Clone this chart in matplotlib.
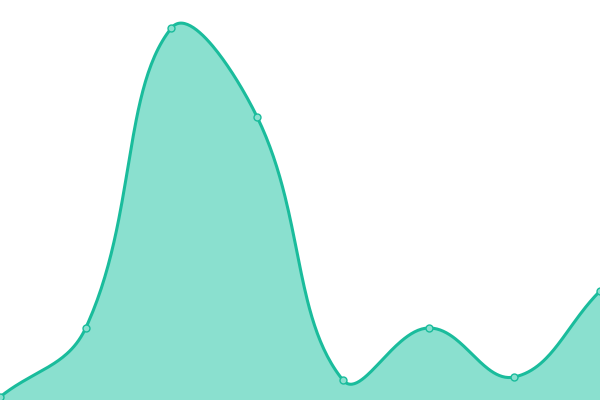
import numpy as np
import matplotlib
matplotlib.use('Agg')
import matplotlib.pyplot as plt

# data (baseline at bottom edge)
x_vals = [0, 1, 2, 3, 4, 5, 6, 7]
y_vals = [3, 72, 372, 283, 20, 72, 23, 109]

LINE = '#1abc9c'
FILL = '#8ae0cf'
TENSION = 0.4
XSCALE = 600 / 7  # x unit in pixels, y unit is already ~1px


def smooth(xs, ys, n=60):
    # bezier spline with distance-weighted control points
    px = np.asarray(xs, float) * XSCALE
    py = np.asarray(ys, float)
    k = len(px)
    c1, c2 = [], []
    for i in range(k):
        pi = max(i - 1, 0)
        ni = min(i + 1, k - 1)
        d01 = np.hypot(px[i] - px[pi], py[i] - py[pi])
        d12 = np.hypot(px[ni] - px[i], py[ni] - py[i])
        s01 = d01 / (d01 + d12) if d01 + d12 else 0
        s12 = d12 / (d01 + d12) if d01 + d12 else 0
        fa, fb = TENSION * s01, TENSION * s12
        dx, dy = px[ni] - px[pi], py[ni] - py[pi]
        c1.append((px[i] - fa * dx, py[i] - fa * dy))
        c2.append((px[i] + fb * dx, py[i] + fb * dy))
    t = np.linspace(0, 1, n)
    ox, oy = [], []
    for i in range(k - 1):
        b0 = (1 - t) ** 3
        b1 = 3 * (1 - t) ** 2 * t
        b2 = 3 * (1 - t) * t ** 2
        b3 = t ** 3
        ox.append(b0 * px[i] + b1 * c2[i][0] + b2 * c1[i + 1][0] + b3 * px[i + 1])
        oy.append(b0 * py[i] + b1 * c2[i][1] + b2 * c1[i + 1][1] + b3 * py[i + 1])
    return np.concatenate(ox) / XSCALE, np.concatenate(oy)


sx, sy = smooth(x_vals, y_vals)

fig = plt.figure(figsize=(6, 4), dpi=100)
ax = fig.add_axes([0, 0, 1, 1])
ax.fill_between(sx, sy, 0, color=FILL, linewidth=0)
ax.plot(sx, sy, color=LINE, linewidth=2.2, solid_capstyle='round')
ax.plot(x_vals, y_vals, 'o', markersize=5, markerfacecolor=FILL,
        markeredgecolor=LINE, markeredgewidth=1, clip_on=False)
ax.set_xlim(0, 7)
ax.set_ylim(0, 400)
ax.axis('off')

fig.savefig('out.png', dpi=100)
